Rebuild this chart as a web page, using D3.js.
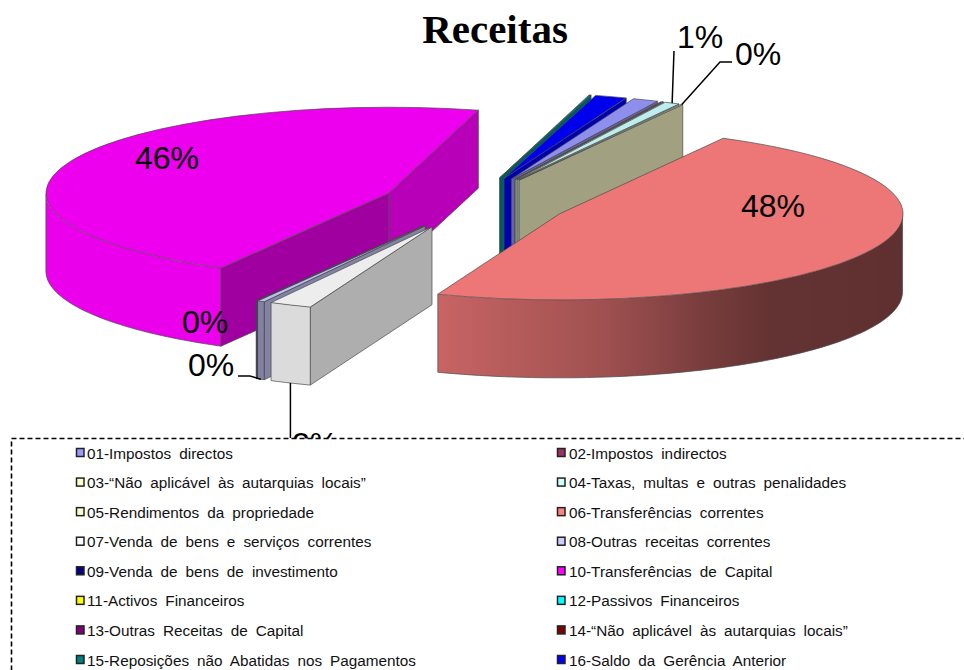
<!DOCTYPE html>
<html>
<head>
<meta charset="utf-8">
<script src="https://d3js.org/d3.v7.min.js"></script>
<style>
  body { margin: 0; background: #fff; }
  text { font-family: "Liberation Sans", Arial, sans-serif; }
</style>
</head>
<body>
<div id="chart"></div>
<script>
// data (percent of total)
var categories = [
  "01-Impostos directos", "02-Impostos indirectos",
  "03-\u201CNão aplicável às autarquias locais\u201D", "04-Taxas, multas e outras penalidades",
  "05-Rendimentos da propriedade", "06-Transferências correntes",
  "07-Venda de bens e serviços correntes", "08-Outras receitas correntes",
  "09-Venda de bens de investimento", "10-Transferências de Capital",
  "11-Activos Financeiros", "12-Passivos Financeiros",
  "13-Outras Receitas de Capital", "14-\u201CNão aplicável às autarquias locais\u201D",
  "15-Reposições não Abatidas nos Pagamentos", "16-Saldo da Gerência Anterior"
];
var values = [1.2, 0.1, 0.02, 0.7, 0.1, 47.9, 2.0, 0.35, 0.02, 46.1, 0, 0, 0, 0, 0.1, 1.5];
var colors = ["#9999FF", "#993366", "#FFFFCC", "#CCFFFF", "#FFFFCC", "#FF8080", "#FFFFFF", "#CCCCFF",
              "#000080", "#FF00FF", "#FFFF00", "#00FFFF", "#800080", "#800000", "#008080", "#0000FF"];

// labels that appear on the chart: slice index and where the text sits
var labelled = [
  {i: 3, x: 700, y: 48, leader: true},
  {i: 4, x: 758, y: 65, leader: true},
  {i: 5, x: 773, y: 217},
  {i: 6, x: 315, y: 455, leader: true},
  {i: 7, x: 211, y: 376, leader: true},
  {i: 8, x: 205, y: 333},
  {i: 9, x: 167, y: 169}
];

var width = 964, height = 670;
var deg = Math.PI / 180;

// pie geometry
var rx = 343, ry = 86, depth = 78;
var origin = {x: 475, y: 203};
var explodeX = 93, explodeY = 26;
var explodeExtra = {6: 1.12, 7: 1.12, 8: 1.12}; // 07-09 sit a little further out
var firstSliceEnd = 28.5 * deg; // where slice 06 starts

var svg = d3.select("#chart")
  .append("svg")
    .attr("width", width)
    .attr("height", height);
var defs = svg.append("defs");

// angles, clockwise from the top; rotated so 06 starts at firstSliceEnd
var total = d3.sum(values);
var before = d3.sum(values.slice(0, 5));
var pie = d3.pie()
  .sort(null)
  .value(function(d) { return d; })
  .startAngle(firstSliceEnd - before / total * 2 * Math.PI)
  .endAngle(firstSliceEnd - before / total * 2 * Math.PI + 2 * Math.PI);

var slices = pie(values).map(function(d, i) {
  var mid = (d.startAngle + d.endAngle) / 2;
  var extra = explodeExtra[i] || 1;
  return {
    index: i,
    value: d.value,
    a0: d.startAngle,
    a1: d.endAngle,
    mid: mid,
    cx: origin.x + extra * explodeX * Math.sin(mid),
    cy: origin.y - explodeY * Math.cos(mid),
    color: colors[i]
  };
});

function rimPoint(s, a, drop) {
  return [s.cx + rx * Math.sin(a), s.cy - ry * Math.cos(a) + (drop || 0)];
}

// shading of the side faces
var flatShade = d3.scaleLinear().domain([105, 119]).range([0.72, 0.63]).clamp(true);
var rimShade = d3.scaleLinear()
  .domain([90, 142, 156, 173, 200, 209, 270])
  .range([0.37, 0.39, 0.48, 0.63, 0.78, 0.92, 0.92])
  .clamp(true);
var rimOverride = {6: 0.86, 7: 0.63}; // these two read flatter in the picture

function shade(color, k) {
  var c = d3.rgb(color);
  return d3.rgb(c.r * k, c.g * k, c.b * k).formatHex();
}

function normDeg(a) {
  var v = a / deg % 360;
  return v < 0 ? v + 360 : v;
}

var arc = d3.arc().innerRadius(0).outerRadius(1);
var line = d3.line();
var edge = "#4a4a4a";

function flatWall(s, a, normal) {
  var n = normDeg(normal);
  if (n <= 90 || n >= 270) return; // faces away
  var p = rimPoint(s, a), q = rimPoint(s, a, depth);
  svg.append("path")
    .attr("d", line([[s.cx, s.cy], p, q, [s.cx, s.cy + depth]]) + "Z")
    .attr("fill", shade(s.color, flatShade(n)))
    .attr("stroke", edge)
    .attr("stroke-width", 0.7);
}

function rimWall(s) {
  // only the part between 90 and 270 degrees is seen
  var a0 = normDeg(s.a0), a1 = a0 + (s.a1 - s.a0) / deg;
  var from = Math.max(a0, 90), to = Math.min(a1, 270);
  if (to <= from) return;
  var steps = d3.range(from, to, 1.5).concat([to]);
  var topEdge = steps.map(function(a) { return rimPoint(s, a * deg); });
  var bottomEdge = steps.map(function(a) { return rimPoint(s, a * deg, depth); });

  // left to right shading along the wall
  var x1 = topEdge[0][0], x2 = topEdge[topEdge.length - 1][0];
  var offset = d3.scaleLinear().domain([x1, x2]).range([0, 1]);
  var grad = defs.append("linearGradient")
    .attr("id", "rim" + s.index)
    .attr("gradientUnits", "userSpaceOnUse")
    .attr("x1", x1).attr("x2", x2).attr("y1", 0).attr("y2", 0);
  steps.forEach(function(a, j) {
    var k = rimOverride[s.index] || rimShade(a);
    grad.append("stop")
      .attr("offset", offset(topEdge[j][0]))
      .attr("stop-color", shade(s.color, k));
  });

  svg.append("path")
    .attr("d", line(topEdge.concat(bottomEdge.slice().reverse())) + "Z")
    .attr("fill", "url(#rim" + s.index + ")");
  svg.append("path")
    .attr("d", line(bottomEdge))
    .attr("fill", "none")
    .attr("stroke", edge)
    .attr("stroke-width", 0.7);
  [from, to].forEach(function(a) {
    svg.append("path")
      .attr("d", line([rimPoint(s, a * deg), rimPoint(s, a * deg, depth)]))
      .attr("stroke", edge)
      .attr("stroke-width", 0.7);
  });
}

// back to front
var visible = slices.filter(function(s) { return s.value > 0; })
  .sort(function(a, b) { return d3.ascending(-Math.cos(a.mid), -Math.cos(b.mid)); });

visible.forEach(function(s) {
  flatWall(s, s.a0, s.a0 - Math.PI / 2);
  flatWall(s, s.a1, s.a1 + Math.PI / 2);
  rimWall(s);
  svg.append("path")
    .attr("d", arc({startAngle: s.a0, endAngle: s.a1}))
    .attr("transform", "translate(" + s.cx + "," + s.cy + ") scale(" + rx + "," + ry + ")")
    .attr("fill", shade(s.color, 0.93))
    .attr("stroke", edge)
    .attr("stroke-width", 0.7)
    .attr("vector-effect", "non-scaling-stroke");
});

// data labels and their leaders
labelled.forEach(function(l) {
  var s = slices[l.i];
  var onFront = normDeg(s.mid) > 90 && normDeg(s.mid) < 270;
  if (l.leader) {
    var end = rimPoint(s, s.mid, onFront ? depth : 0);
    var pts;
    if (l.i == 3) pts = [[l.x - 26, l.y + 3], end];
    else if (l.i == 4) pts = [[l.x - 26, l.y - 3], [l.x - 38, l.y - 3], end];
    else if (l.i == 6) pts = [[end[0], l.y - 17], end];
    else pts = [[l.x + 27, l.y], [l.x + 39, l.y], end];
    svg.append("path")
      .attr("d", line(pts))
      .attr("fill", "none")
      .attr("stroke", "#000")
      .attr("stroke-width", 1.5);
  }
  svg.append("text")
    .attr("x", l.x)
    .attr("y", l.y)
    .attr("text-anchor", "middle")
    .attr("font-size", 32)
    .attr("fill", "#000")
    .text(Math.round(s.value) + "%");
});

svg.append("text")
  .attr("x", 495)
  .attr("y", 43)
  .attr("text-anchor", "middle")
  .style("font-family", "'Liberation Serif', serif")
  .style("font-weight", "bold")
  .style("font-size", "41px")
  .text("Receitas");

// legend box runs off the page on the right and at the bottom
svg.append("rect")
  .attr("x", 11.5)
  .attr("y", 438.5)
  .attr("width", 1000)
  .attr("height", 300)
  .attr("fill", "#fff")
  .attr("stroke", "#000")
  .attr("stroke-width", 1.6)
  .attr("stroke-dasharray", "5,3");

var legendX = d3.scalePoint().domain([0, 1]).range([76, 557]);
var legendY = d3.scalePoint().domain(d3.range(8)).range([453, 660]);

var items = svg.selectAll("g.item")
  .data(categories)
  .enter()
  .append("g")
    .attr("class", "item")
    .attr("transform", function(d, i) {
      return "translate(" + legendX(i % 2) + "," + legendY(Math.floor(i / 2)) + ")";
    });

items.append("rect")
  .attr("x", 0.5)
  .attr("y", -4.5)
  .attr("width", 7.5)
  .attr("height", 8)
  .attr("fill", function(d, i) { return colors[i]; })
  .attr("stroke", "#222")
  .attr("stroke-width", 1.5);

items.append("text")
  .attr("x", function(d, i) { return i % 2 ? 12 : 11; })
  .attr("y", 5.5)
  .attr("font-size", 15.3)
  .attr("word-spacing", 3.8)
  .attr("fill", "#111")
  .text(function(d) { return d; });
</script>
</body>
</html>
